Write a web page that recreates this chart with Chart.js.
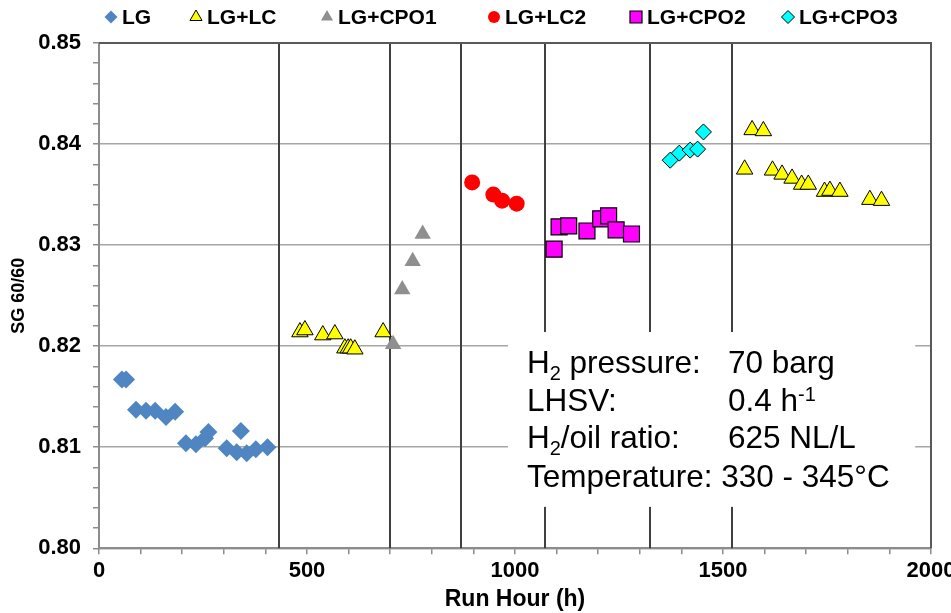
<!DOCTYPE html>
<html>
<head>
<meta charset="utf-8">
<title>SG 60/60 vs run hour</title>
<script src="https://cdn.jsdelivr.net/npm/chart.js@4.4.1/dist/chart.umd.min.js"></script>
<style>
  html, body { margin: 0; padding: 0; background: #fff; overflow: hidden; }
  #wrap { width: 951px; height: 613px; }
</style>
</head>
<body>
<div id="wrap"><canvas id="sg-chart"></canvas></div>
<script>
// feed switch-over points (run hour)
const switchHours = [432, 699, 870, 1072, 1324, 1522];

// LG
const lgHours = [55, 65, 89, 113, 135, 161, 183, 209, 233, 255, 263, 307, 331, 341, 355, 377, 405];
const lgSG = [0.8167, 0.8167, 0.8137, 0.8136, 0.8136, 0.8130, 0.8135, 0.8104, 0.8103, 0.8109, 0.8115,
              0.8099, 0.8095, 0.8116, 0.8094, 0.8098, 0.8100];

// LG+LC (two campaigns)
const lcHours = [483, 495, 538, 567, 591, 599, 605, 615, 683,
                 1552, 1570, 1597, 1619, 1642, 1666, 1689, 1705, 1744, 1757, 1781, 1853, 1881];
const lcSG = [0.8214, 0.8216, 0.8211, 0.8212, 0.8198, 0.8198, 0.8198, 0.8197, 0.8214,
              0.8375, 0.8414, 0.8413, 0.8374, 0.8370, 0.8366, 0.8360, 0.8360, 0.8353, 0.8354, 0.8353, 0.8345, 0.8344];

// LG+CPO1
const cpo1Hours = [707, 729, 754, 778];
const cpo1SG = [0.8202, 0.8256, 0.8284, 0.8311];

// LG+LC2
const lc2Hours = [897, 948, 969, 1004];
const lc2SG = [0.8362, 0.8350, 0.8344, 0.8341];

// LG+CPO2
const cpo2Hours = [1094, 1106, 1129, 1173, 1206, 1225, 1243, 1280];
const cpo2SG = [0.8296, 0.8318, 0.8319, 0.8314, 0.8326, 0.8329, 0.8315, 0.8311];

// LG+CPO3
const cpo3Hours = [1373, 1395, 1421, 1439, 1453];
const cpo3SG = [0.8384, 0.8391, 0.8394, 0.8395, 0.8412];

const xTicks = [0, 500, 1000, 1500, 2000];
const yTicks = [0.80, 0.81, 0.82, 0.83, 0.84, 0.85];

const FONT = '"Liberation Sans", Arial, sans-serif';

function pts(xs, ys) {
  return xs.map((x, i) => ({ x: x, y: ys[i] }));
}

function isMajor(v, step) {
  return Math.abs(v / step - Math.round(v / step)) < 1e-6;
}

// vertical lines where the feed was changed
const switchLines = {
  id: 'switchLines',
  beforeDatasetsDraw(chart) {
    const { ctx, chartArea, scales } = chart;
    ctx.save();
    ctx.strokeStyle = '#404040';
    ctx.lineWidth = 2;
    switchHours.forEach(h => {
      const px = Math.round(scales.x.getPixelForValue(h));
      ctx.beginPath();
      ctx.moveTo(px, chartArea.top);
      ctx.lineTo(px, chartArea.bottom);
      ctx.stroke();
    });
    ctx.restore();
  }
};

// conditions box + frame + legend
const overlay = {
  id: 'overlay',
  afterDraw(chart) {
    const { ctx, chartArea, scales } = chart;
    const x = scales.x, y = scales.y;

    // conditions box
    const bl = x.getPixelForValue(983);
    const br = x.getPixelForValue(1962);
    const bt = y.getPixelForValue(0.8214);
    const bb = y.getPixelForValue(0.8041);
    ctx.save();
    ctx.fillStyle = '#ffffff';
    ctx.fillRect(bl, bt, br - bl, bb - bt);

    const big = '31.5px ' + FONT;
    const small = '20px ' + FONT;
    const c1 = bl + 19, c2 = bl + 220;
    const rows = [bt + 41, bt + 78.7, bt + 116.3, bt + 154.7];
    ctx.fillStyle = '#000';
    ctx.textBaseline = 'alphabetic';
    ctx.textAlign = 'left';

    function run(parts, x0, base) {
      let cx = x0;
      parts.forEach(p => {
        ctx.font = p.sub || p.sup ? small : big;
        const dy = p.sub ? 7 : (p.sup ? -10 : 0);
        ctx.fillText(p.t, cx, base + dy);
        cx += ctx.measureText(p.t).width;
      });
    }
    run([{ t: 'H' }, { t: '2', sub: true }, { t: ' pressure:' }], c1, rows[0]);
    run([{ t: '70 barg' }], c2, rows[0]);
    run([{ t: 'LHSV:' }], c1, rows[1]);
    run([{ t: '0.4 h' }, { t: '-1', sup: true }], c2, rows[1]);
    run([{ t: 'H' }, { t: '2', sub: true }, { t: '/oil ratio:' }], c1, rows[2]);
    run([{ t: '625 NL/L' }], c2, rows[2]);
    run([{ t: 'Temperature: 330 - 345\u00B0C' }], c1, rows[3]);

    // plot frame, top and right
    ctx.strokeStyle = '#595959';
    ctx.lineWidth = 2;
    ctx.beginPath();
    ctx.moveTo(chartArea.left, chartArea.top);
    ctx.lineTo(chartArea.right, chartArea.top);
    ctx.lineTo(chartArea.right, chartArea.bottom);
    ctx.stroke();

    // legend row
    const legendX = [111, 196, 327, 494, 636, 788];
    const legendY = 17;
    ctx.font = 'bold 21px ' + FONT;
    ctx.textBaseline = 'middle';
    chart.data.datasets.forEach((ds, i) => {
      ctx.fillStyle = ds.backgroundColor;
      ctx.strokeStyle = ds.borderColor;
      ctx.lineWidth = ds.borderWidth;
      Chart.helpers.drawPoint(ctx, {
        pointStyle: ds.pointStyle,
        radius: ds.legendRadius,
        borderWidth: ds.borderWidth,
        rotation: 0
      }, legendX[i], legendY);
      ctx.fillStyle = '#000';
      ctx.fillText(ds.label, legendX[i] + 11, legendY + 1);
    });
    ctx.restore();
  }
};

new Chart(document.getElementById('sg-chart'), {
  type: 'scatter',
  data: {
    datasets: [
      {
        label: 'LG', data: pts(lgHours, lgSG),
        pointStyle: 'rectRot', pointRadius: 9, legendRadius: 6.5,
        backgroundColor: '#4f86c1', borderColor: '#4f86c1', borderWidth: 0
      },
      {
        label: 'LG+LC', data: pts(lcHours, lcSG),
        pointStyle: 'triangle', pointRadius: 9.5, legendRadius: 7,
        backgroundColor: '#ffff00', borderColor: '#000000', borderWidth: 1
      },
      {
        label: 'LG+CPO1', data: pts(cpo1Hours, cpo1SG),
        pointStyle: 'triangle', pointRadius: 9.5, legendRadius: 7,
        backgroundColor: '#8f8f8f', borderColor: '#8f8f8f', borderWidth: 0
      },
      {
        label: 'LG+LC2', data: pts(lc2Hours, lc2SG),
        pointStyle: 'circle', pointRadius: 8, legendRadius: 6,
        backgroundColor: '#ff0000', borderColor: '#ff0000', borderWidth: 0
      },
      {
        label: 'LG+CPO2', data: pts(cpo2Hours, cpo2SG),
        pointStyle: 'rect', pointRadius: 11.3, legendRadius: 8.5,
        backgroundColor: '#ff00ff', borderColor: '#000000', borderWidth: 1.2
      },
      {
        label: 'LG+CPO3', data: pts(cpo3Hours, cpo3SG),
        pointStyle: 'rectRot', pointRadius: 8, legendRadius: 6.5,
        backgroundColor: '#00ffff', borderColor: '#000000', borderWidth: 1
      }
    ]
  },
  options: {
    responsive: true,
    maintainAspectRatio: false,
    animation: false,
    layout: { padding: { top: 43, right: 20, bottom: 1, left: 0 } },
    plugins: {
      legend: { display: false },
      tooltip: { enabled: false }
    },
    elements: { point: { hoverRadius: 9 } },
    scales: {
      x: {
        type: 'linear',
        min: xTicks[0],
        max: xTicks[xTicks.length - 1],
        afterFit(scale) { scale.paddingRight = 0; scale.paddingLeft = 0; },
        border: { color: '#8c8c8c', width: 2 },
        grid: { drawOnChartArea: false, color: '#8c8c8c', tickLength: 6, lineWidth: 1.5 },
        ticks: {
          stepSize: 100,
          autoSkip: false,
          maxRotation: 0,
          padding: 3,
          color: '#000',
          font: { family: FONT, size: 22, weight: 'bold', lineHeight: 1.2 },
          callback: v => xTicks.includes(v) ? String(v) : ''
        },
        title: {
          display: true,
          text: 'Run Hour (h)',
          color: '#000',
          padding: { top: 0, bottom: 0 },
          font: { family: FONT, size: 23, weight: 'bold', lineHeight: 1.1 }
        }
      },
      y: {
        type: 'linear',
        min: yTicks[0],
        max: yTicks[yTicks.length - 1],
        afterFit(scale) { scale.width = 99; },
        border: { color: '#8c8c8c', width: 2 },
        grid: {
          lineWidth: 1.5,
          tickLength: 6,
          tickColor: '#8c8c8c',
          color: c => (c.tick && isMajor(c.tick.value, 0.01)) ? '#a6a6a6' : 'rgba(0,0,0,0)'
        },
        ticks: {
          stepSize: 0.002,
          autoSkip: false,
          padding: 12,
          color: '#000',
          font: { family: FONT, size: 22, weight: 'bold' },
          callback: v => isMajor(v, 0.01) ? v.toFixed(2) : ''
        },
        title: {
          display: true,
          text: 'SG 60/60',
          color: '#000',
          padding: { top: 8, bottom: 4 },
          font: { family: FONT, size: 18, weight: 'bold' }
        }
      }
    }
  },
  plugins: [switchLines, overlay]
});
</script>
</body>
</html>
